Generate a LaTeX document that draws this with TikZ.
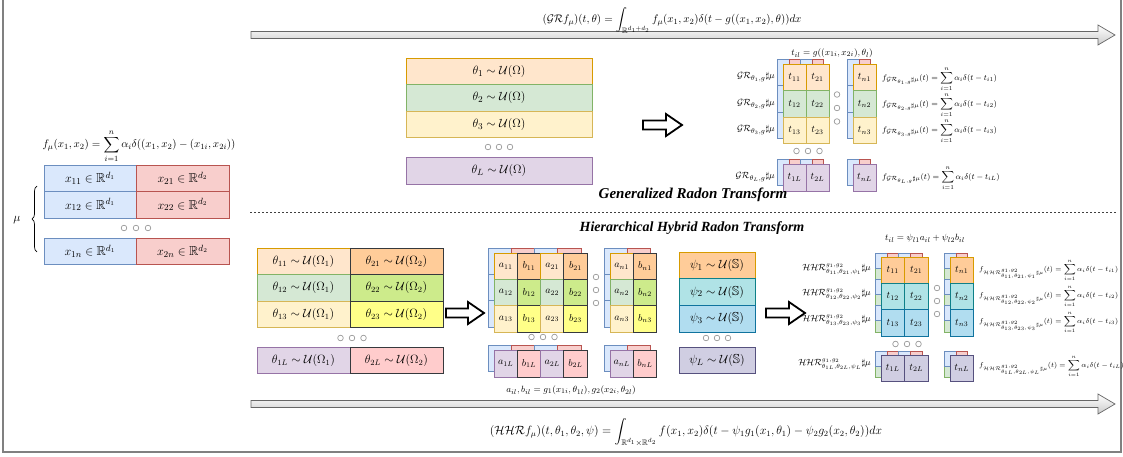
\documentclass[tikz,border=0pt]{standalone}
\usepackage{amsmath,amssymb}
\usepackage{fontspec}
\newfontfamily\titlefont{Liberation Serif}
\usetikzlibrary{decorations.pathreplacing}
\definecolor{bF}{HTML}{DAE8FC}\definecolor{bD}{HTML}{6C8EBF}
\definecolor{rF}{HTML}{F8CECC}\definecolor{rD}{HTML}{B85450}
\definecolor{oF}{HTML}{FFE6CC}\definecolor{oD}{HTML}{D79B00}
\definecolor{gF}{HTML}{D5E8D4}\definecolor{gD}{HTML}{82B366}
\definecolor{yF}{HTML}{FFF2CC}\definecolor{yD}{HTML}{D6B656}
\definecolor{pF}{HTML}{E1D5E7}\definecolor{pD}{HTML}{9673A6}
\definecolor{dkD}{HTML}{36393D}
\definecolor{oTF}{HTML}{FFCC99}
\definecolor{gTF}{HTML}{CDEB8B}
\definecolor{yTF}{HTML}{FFFF88}
\definecolor{rTF}{HTML}{FFCCCC}
\definecolor{tF}{HTML}{B0E3E6}\definecolor{tD}{HTML}{0E8088}
\definecolor{cF}{HTML}{B1DDF0}\definecolor{cD}{HTML}{10739E}
\definecolor{vF}{HTML}{D0CEE2}\definecolor{vD}{HTML}{56517E}
\definecolor{arD}{HTML}{666666}
\definecolor{dotD}{HTML}{999999}
\tikzset{
 cell/.style={draw, anchor=north west, inner sep=0pt, outer sep=0pt, line width=0.8pt, font=\fontsize{10}{12}\selectfont},
 bigcell/.style={cell, font=\fontsize{13}{15}\selectfont},
 midcell/.style={cell, font=\fontsize{11.5}{14}\selectfont},
 bk/.style={line width=0.6pt},
 lbl/.style={inner sep=0pt, font=\fontsize{9.5}{11}\selectfont},
 rlbl/.style={inner sep=0pt, font=\fontsize{8.2}{10}\selectfont},
 hlbl/.style={inner sep=0pt, font=\fontsize{7.4}{9}\selectfont},
 frm/.style={inner sep=0pt, font=\fontsize{12}{14}\selectfont},
 ttl/.style={inner sep=0pt, font=\titlefont\bfseries\itshape\fontsize{14}{16}\selectfont},
 dotc/.style={draw=dotD, fill=white, line width=0.7pt},
 harr/.style={draw=black, fill=white, line width=1.8pt, line join=miter},
 longarr/.style={draw=arD, line width=0.7pt, top color=white, bottom color=white!80!black},
}
\newcommand\C[9]{\node[#1,fill=#7,draw=#8,minimum width=#5pt,minimum height=#6pt] (#2) at (#3,#4) {#9};}
\newcommand\bGR[4]{%
 \filldraw[fill=bF,draw=bD,bk] (#1-6,#2-5) rectangle (#1+#3-6,#2+#4-5);
 \filldraw[fill=rF,draw=rD,bk] (#1+6,#2-5) rectangle (#1+#3-6,#2+#4-5);}
\newcommand\bA[4]{\filldraw[fill=bF,draw=bD,bk] (#1-6,#2-5) rectangle (#1+#3-6,#2+#4-5);}
\newcommand\bB[4]{\filldraw[fill=rF,draw=rD,bk] (#1-6,#2-5) rectangle (#1+#3-6,#2+#4-5);}
\newcommand\bH[4]{%
 \filldraw[fill=gF,draw=gD,bk] (#1-6,#2+11) rectangle (#1+#3-6,#2+#4-4);
 \filldraw[fill=bF,draw=bD,bk] (#1-6,#2-4) rectangle (#1+#3-6,#2+11);
 \filldraw[fill=rF,draw=rD,bk] (#1+6,#2-4) rectangle (#1+#3-6,#2+11);}
\newcommand\hd[3]{\foreach \k in {-1,0,1}{\draw[dotc] (#1+\k*#3,#2) circle[radius=2.8pt];}}
\newcommand\vd[3]{\foreach \k in {-1,0,1}{\draw[dotc] (#1,#2+\k*#3) circle[radius=2.8pt];}}
\newcommand\harrow[3]{\draw[harr] (#1,#3-4.5) -- (#2-16,#3-4.5) -- (#2-16,#3-11) -- (#2,#3) -- (#2-16,#3+11) -- (#2-16,#3+4.5) -- (#1,#3+4.5) -- cycle;}
\newcommand\longarrow[3]{\draw[longarr] (#1,#3-3.5) -- (#2-17,#3-3.5) -- (#2-17,#3-10) -- (#2,#3) -- (#2-17,#3+10) -- (#2-17,#3+3.5) -- (#1,#3+3.5) -- cycle;}
\begin{document}
\begin{tikzpicture}[x=1pt,y=-1pt]
\useasboundingbox (0,0) rectangle (1123,457);
% frame
\draw[gray, line width=1.5pt] (3,0) -- (3,452) -- (1121,452) -- (1121,0);
% long arrows
\longarrow{251}{1115}{35}
\longarrow{251}{1115}{404}
\node[frm,font=\fontsize{11.2}{13}\selectfont,anchor=base] (topf) at (672,23) {$(\mathcal{GR}f_\mu)(t,\theta)=\displaystyle\int_{\mathbb{R}^{d_1+d_2}}f_\mu(x_1,x_2)\delta(t-g((x_1,x_2),\theta))dx$};
\node[frm] (botf) at (686,432) {$(\mathcal{HHR}f_\mu)(t,\theta_1,\theta_2,\psi)=\displaystyle\int_{\mathbb{R}^{d_1}\times\mathbb{R}^{d_2}}f(x_1,x_2)\delta(t-\psi_1g_1(x_1,\theta_1)-\psi_2g_2(x_2,\theta_2))dx$};
% ---------- left mu block
\node[lbl,font=\fontsize{11}{13}\selectfont] (fmu) at (139,146) {$f_\mu(x_1,x_2)=\displaystyle\sum_{i=1}^{n}\alpha_i\delta((x_1,x_2)-(x_{1i},x_{2i}))$};
\C{bigcell}{x11}{44}{165}{92}{26.5}{bF}{bD}{$x_{11}\in\mathbb{R}^{d_1}$}
\C{bigcell}{x21}{136}{165}{93}{26.5}{rF}{rD}{$x_{21}\in\mathbb{R}^{d_2}$}
\C{bigcell}{x12}{44}{191.5}{92}{26.5}{bF}{bD}{$x_{12}\in\mathbb{R}^{d_1}$}
\C{bigcell}{x22}{136}{191.5}{93}{26.5}{rF}{rD}{$x_{22}\in\mathbb{R}^{d_2}$}
\C{bigcell}{x1n}{44}{238}{92}{26.5}{bF}{bD}{$x_{1n}\in\mathbb{R}^{d_1}$}
\C{bigcell}{x2n}{136}{238}{93}{26.5}{rF}{rD}{$x_{2n}\in\mathbb{R}^{d_2}$}
\hd{136}{228}{12}
\draw[decorate,decoration={brace,amplitude=5pt},line width=0.7pt] (37,252) -- (37,186);
\node[lbl,font=\fontsize{12}{14}\selectfont] (mu) at (17,220) {$\mu$};
% ---------- top theta block
\C{bigcell}{th1}{406}{58}{186}{26.5}{oF}{oD}{$\theta_1\sim\mathcal{U}(\Omega)$}
\C{bigcell}{th2}{406}{84.5}{186}{26.5}{gF}{gD}{$\theta_2\sim\mathcal{U}(\Omega)$}
\C{bigcell}{th3}{406}{111}{186}{26.5}{yF}{yD}{$\theta_3\sim\mathcal{U}(\Omega)$}
\C{bigcell}{thL}{406}{157}{186}{27}{pF}{pD}{$\theta_L\sim\mathcal{U}(\Omega)$}
\hd{499}{147}{11}
\harrow{643}{682}{125}
% ---------- GR block
\node[lbl] (tgr) at (832,53) {$t_{il}=g((x_{1i},x_{2i}),\theta_l)$};
\foreach \yy in {64,90.5,117,164}{\foreach \xx in {783,806,853}{\bGR{\xx}{\yy}{23}{26.5}}}
\C{cell}{g11}{783}{64}{23}{26.5}{oF}{oD}{$t_{11}$}
\C{cell}{g21}{806}{64}{23}{26.5}{oF}{oD}{$t_{21}$}
\C{cell}{gn1}{853}{64}{23}{26.5}{oF}{oD}{$t_{n1}$}
\C{cell}{g12}{783}{90.5}{23}{26.5}{gF}{gD}{$t_{12}$}
\C{cell}{g22}{806}{90.5}{23}{26.5}{gF}{gD}{$t_{22}$}
\C{cell}{gn2}{853}{90.5}{23}{26.5}{gF}{gD}{$t_{n2}$}
\C{cell}{g13}{783}{117}{23}{26.5}{yF}{yD}{$t_{13}$}
\C{cell}{g23}{806}{117}{23}{26.5}{yF}{yD}{$t_{23}$}
\C{cell}{gn3}{853}{117}{23}{26.5}{yF}{yD}{$t_{n3}$}
\C{cell}{g1L}{783}{164}{23}{27}{pF}{pD}{$t_{1L}$}
\C{cell}{g2L}{806}{164}{23}{27}{pF}{pD}{$t_{2L}$}
\C{cell}{gnL}{853}{164}{23}{27}{pF}{pD}{$t_{nL}$}
\hd{808}{151}{11.5}
\vd{837}{108}{13.5}
\node[lbl,anchor=east] (gl1) at (775,77) {$\mathcal{GR}_{\theta_1,g}\sharp\mu$};
\node[lbl,anchor=east] (gl2) at (775,104) {$\mathcal{GR}_{\theta_2,g}\sharp\mu$};
\node[lbl,anchor=east] (gl3) at (775,130) {$\mathcal{GR}_{\theta_3,g}\sharp\mu$};
\node[lbl,anchor=east] (glL) at (775,177) {$\mathcal{GR}_{\theta_L,g}\sharp\mu$};
\node[rlbl,anchor=west] (gf1) at (882,79) {$f_{\mathcal{GR}_{\theta_1,g}\sharp\mu}(t)=\displaystyle\sum_{i=1}^{n}\alpha_i\delta(t-t_{i1})$};
\node[rlbl,anchor=west] (gf2) at (882,105) {$f_{\mathcal{GR}_{\theta_2,g}\sharp\mu}(t)=\displaystyle\sum_{i=1}^{n}\alpha_i\delta(t-t_{i2})$};
\node[rlbl,anchor=west] (gf3) at (882,131) {$f_{\mathcal{GR}_{\theta_3,g}\sharp\mu}(t)=\displaystyle\sum_{i=1}^{n}\alpha_i\delta(t-t_{i3})$};
\node[rlbl,anchor=west] (gfL) at (882,178) {$f_{\mathcal{GR}_{\theta_L,g}\sharp\mu}(t)=\displaystyle\sum_{i=1}^{n}\alpha_i\delta(t-t_{iL})$};
% ---------- titles and separator
\node[ttl,font=\titlefont\bfseries\itshape\fontsize{15}{17}\selectfont] (grt) at (693,195) {Generalized Radon Transform};
\draw[dashed, dash pattern=on 2pt off 2pt, draw=black!75, line width=0.6pt] (250,212) -- (1116,212);
\node[ttl] (hhrt) at (692,228) {Hierarchical Hybrid Radon Transform};
% ---------- bottom theta block
\C{midcell}{a11t}{257}{248}{93}{26.5}{oF}{oD}{$\theta_{11}\sim\mathcal{U}(\Omega_1)$}
\C{midcell}{b11t}{350}{248}{93}{26.5}{oTF}{dkD}{$\theta_{21}\sim\mathcal{U}(\Omega_2)$}
\C{midcell}{a12t}{257}{274.5}{93}{26.5}{gF}{gD}{$\theta_{12}\sim\mathcal{U}(\Omega_1)$}
\C{midcell}{b12t}{350}{274.5}{93}{26.5}{gTF}{dkD}{$\theta_{22}\sim\mathcal{U}(\Omega_2)$}
\C{midcell}{a13t}{257}{301}{93}{26.5}{yF}{yD}{$\theta_{13}\sim\mathcal{U}(\Omega_1)$}
\C{midcell}{b13t}{350}{301}{93}{26.5}{yTF}{dkD}{$\theta_{23}\sim\mathcal{U}(\Omega_2)$}
\C{midcell}{a1Lt}{257}{347}{93}{26.5}{pF}{pD}{$\theta_{1L}\sim\mathcal{U}(\Omega_1)$}
\C{midcell}{b1Lt}{350}{347}{93}{26.5}{rTF}{dkD}{$\theta_{2L}\sim\mathcal{U}(\Omega_2)$}
\hd{352}{338}{11.5}
\harrow{446}{484}{313}
% ---------- a/b block
\foreach \yy in {253,279.3,305.6,350}{%
 \bA{494}{\yy}{23.25}{26.3}\bB{517.25}{\yy}{23.25}{26.3}\bA{540.5}{\yy}{23.25}{26.3}\bB{563.75}{\yy}{23.25}{26.3}%
 \bA{610}{\yy}{23.25}{26.3}\bB{633.25}{\yy}{23.25}{26.3}}
\C{cell}{ca11}{494}{253}{23.25}{26.3}{oF}{oD}{$a_{11}$}
\C{cell}{cb11}{517.25}{253}{23.25}{26.3}{oTF}{dkD}{$b_{11}$}
\C{cell}{ca21}{540.5}{253}{23.25}{26.3}{oF}{oD}{$a_{21}$}
\C{cell}{cb21}{563.75}{253}{23.25}{26.3}{oTF}{dkD}{$b_{21}$}
\C{cell}{can1}{610}{253}{23.25}{26.3}{oF}{oD}{$a_{n1}$}
\C{cell}{cbn1}{633.25}{253}{23.25}{26.3}{oTF}{dkD}{$b_{n1}$}
\C{cell}{ca12}{494}{279.3}{23.25}{26.3}{gF}{gD}{$a_{12}$}
\C{cell}{cb12}{517.25}{279.3}{23.25}{26.3}{gTF}{dkD}{$b_{12}$}
\C{cell}{ca22}{540.5}{279.3}{23.25}{26.3}{gF}{gD}{$a_{22}$}
\C{cell}{cb22}{563.75}{279.3}{23.25}{26.3}{gTF}{dkD}{$b_{22}$}
\C{cell}{can2}{610}{279.3}{23.25}{26.3}{gF}{gD}{$a_{n2}$}
\C{cell}{cbn2}{633.25}{279.3}{23.25}{26.3}{gTF}{dkD}{$b_{n2}$}
\C{cell}{ca13}{494}{305.6}{23.25}{26.3}{yF}{yD}{$a_{13}$}
\C{cell}{cb13}{517.25}{305.6}{23.25}{26.3}{yTF}{dkD}{$b_{13}$}
\C{cell}{ca23}{540.5}{305.6}{23.25}{26.3}{yF}{yD}{$a_{23}$}
\C{cell}{cb23}{563.75}{305.6}{23.25}{26.3}{yTF}{dkD}{$b_{23}$}
\C{cell}{can3}{610}{305.6}{23.25}{26.3}{yF}{yD}{$a_{n3}$}
\C{cell}{cbn3}{633.25}{305.6}{23.25}{26.3}{yTF}{dkD}{$b_{n3}$}
\C{cell}{ca1L}{494}{350}{23.25}{27}{pF}{pD}{$a_{1L}$}
\C{cell}{cb1L}{517.25}{350}{23.25}{27}{rTF}{dkD}{$b_{1L}$}
\C{cell}{ca2L}{540.5}{350}{23.25}{27}{pF}{pD}{$a_{2L}$}
\C{cell}{cb2L}{563.75}{350}{23.25}{27}{rTF}{dkD}{$b_{2L}$}
\C{cell}{canL}{610}{350}{23.25}{27}{pF}{pD}{$a_{nL}$}
\C{cell}{cbnL}{633.25}{350}{23.25}{27}{rTF}{dkD}{$b_{nL}$}
\hd{543}{337}{11.5}
\vd{596}{290}{13}
\node[lbl] (abcap) at (571,390) {$a_{il},b_{il}=g_1(x_{1i},\theta_{1l}),g_2(x_{2i},\theta_{2l})$};
% ---------- psi block
\C{bigcell}{ps1}{679}{252}{76}{26.7}{oTF}{oD}{$\psi_1\sim\mathcal{U}(\mathbb{S})$}
\C{bigcell}{ps2}{679}{278.7}{76}{26.7}{tF}{tD}{$\psi_2\sim\mathcal{U}(\mathbb{S})$}
\C{bigcell}{ps3}{679}{305.4}{76}{26.7}{cF}{cD}{$\psi_3\sim\mathcal{U}(\mathbb{S})$}
\C{bigcell}{psL}{679}{347}{76}{26.5}{vF}{vD}{$\psi_L\sim\mathcal{U}(\mathbb{S})$}
\hd{717}{338}{11}
\harrow{766}{805}{313}
% ---------- HHR block
\node[lbl] (thh) at (925,238) {$t_{il}=\psi_{l1}a_{il}+\psi_{l2}b_{il}$};
\foreach \yy in {257,283.3,309.6,355}{\foreach \xx in {881,904.5,950}{\bH{\xx}{\yy}{23.5}{26.3}}}
\C{cell}{h11}{881}{257}{23.5}{26.3}{oTF}{oD}{$t_{11}$}
\C{cell}{h21}{904.5}{257}{23.5}{26.3}{oTF}{oD}{$t_{21}$}
\C{cell}{hn1}{950}{257}{23.5}{26.3}{oTF}{oD}{$t_{n1}$}
\C{cell}{h12}{881}{283.3}{23.5}{26.3}{tF}{tD}{$t_{12}$}
\C{cell}{h22}{904.5}{283.3}{23.5}{26.3}{tF}{tD}{$t_{22}$}
\C{cell}{hn2}{950}{283.3}{23.5}{26.3}{tF}{tD}{$t_{n2}$}
\C{cell}{h13}{881}{309.6}{23.5}{26.3}{cF}{cD}{$t_{13}$}
\C{cell}{h23}{904.5}{309.6}{23.5}{26.3}{cF}{cD}{$t_{23}$}
\C{cell}{hn3}{950}{309.6}{23.5}{26.3}{cF}{cD}{$t_{n3}$}
\C{cell}{h1L}{881}{355}{23.5}{26}{vF}{vD}{$t_{1L}$}
\C{cell}{h2L}{904.5}{355}{23.5}{26}{vF}{vD}{$t_{2L}$}
\C{cell}{hnL}{950}{355}{23.5}{26}{vF}{vD}{$t_{nL}$}
\hd{907}{344}{11.5}
\vd{937}{301}{13}
\node[lbl,font=\fontsize{9}{11}\selectfont,anchor=east] (hl1) at (871,269) {$\mathcal{HHR}^{g_1,g_2}_{\theta_{11},\theta_{21},\psi_1}\sharp\mu$};
\node[lbl,font=\fontsize{9}{11}\selectfont,anchor=east] (hl2) at (871,294) {$\mathcal{HHR}^{g_1,g_2}_{\theta_{12},\theta_{22},\psi_2}\sharp\mu$};
\node[lbl,font=\fontsize{9}{11}\selectfont,anchor=east] (hl3) at (871,320) {$\mathcal{HHR}^{g_1,g_2}_{\theta_{13},\theta_{23},\psi_3}\sharp\mu$};
\node[lbl,font=\fontsize{9}{11}\selectfont,anchor=east] (hlL) at (871,364) {$\mathcal{HHR}^{g_1,g_2}_{\theta_{1L},\theta_{2L},\psi_L}\sharp\mu$};
\node[hlbl,anchor=west] (hf1) at (979,270) {$f_{\mathcal{HHR}^{g_1,g_2}_{\theta_{11},\theta_{21},\psi_1}\sharp\mu}(t)=\displaystyle\sum_{i=1}^{n}\alpha_i\delta(t-t_{i1})$};
\node[hlbl,anchor=west] (hf2) at (979,296) {$f_{\mathcal{HHR}^{g_1,g_2}_{\theta_{12},\theta_{22},\psi_2}\sharp\mu}(t)=\displaystyle\sum_{i=1}^{n}\alpha_i\delta(t-t_{i2})$};
\node[hlbl,anchor=west] (hf3) at (979,322) {$f_{\mathcal{HHR}^{g_1,g_2}_{\theta_{13},\theta_{23},\psi_3}\sharp\mu}(t)=\displaystyle\sum_{i=1}^{n}\alpha_i\delta(t-t_{i3})$};
\node[hlbl,anchor=west] (hfL) at (979,366) {$f_{\mathcal{HHR}^{g_1,g_2}_{\theta_{1L},\theta_{2L},\psi_L}\sharp\mu}(t)=\displaystyle\sum_{i=1}^{n}\alpha_i\delta(t-t_{iL})$};
\end{tikzpicture}
\end{document}
